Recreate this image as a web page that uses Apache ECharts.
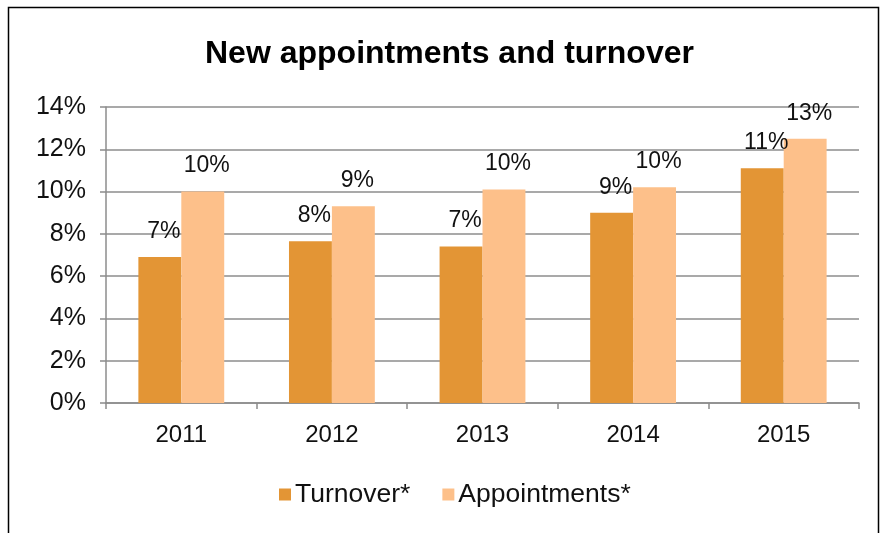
<!DOCTYPE html>
<html style="height: 100%">
<head>
    <meta charset="utf-8">
    <title>New appointments and turnover</title>
    <script src="https://cdn.jsdelivr.net/npm/echarts@6/dist/echarts.min.js"></script>
</head>
<body style="height: 100%; margin: 0; background: #fff">
    <div id="main" style="width: 882px; height: 533px"></div>
    <script>
        // data
        var years = ['2011', '2012', '2013', '2014', '2015'];
        var turnover = [6.9, 7.65, 7.4, 9.0, 11.1];
        var appointments = [10.0, 9.3, 10.1, 10.2, 12.5];

        var myChart = echarts.init(document.getElementById('main'));
        var font = 'Liberation Sans, Arial, sans-serif';

        var labelOpt = {
            show: true,
            position: 'top',
            distance: 14,
            offset: [4, 0],
            color: '#111',
            fontSize: 23,
            fontFamily: font,
            formatter: function (p) { return Math.round(p.value) + '%'; }
        };

        myChart.setOption({
            animation: false,
            title: {
                text: 'New appointments and turnover',
                left: 200,
                top: 33,
                textStyle: { fontFamily: font, fontSize: 32, fontWeight: 'bold', color: '#000' }
            },
            graphic: [{
                type: 'rect',
                shape: { x: 8.5, y: 7.5, width: 870, height: 560 },
                style: { fill: 'none', stroke: '#000', lineWidth: 1.5 },
                silent: true
            }],
            legend: {
                bottom: 20,
                left: 274,
                itemWidth: 12,
                itemHeight: 12,
                itemGap: 32,
                icon: 'rect',
                textStyle: { fontFamily: font, fontSize: 26.5, color: '#111', padding: [0, 0, 0, -1] },
                data: ['Turnover*', 'Appointments*']
            },
            grid: { left: 106, right: 23, top: 107, bottom: 130 },
            xAxis: {
                type: 'category',
                data: years,
                axisLine: { lineStyle: { color: '#8c8c8c', width: 1.5 } },
                axisTick: { show: true, length: 6, lineStyle: { color: '#8c8c8c', width: 1.5 } },
                axisLabel: { fontFamily: font, fontSize: 24, color: '#111', margin: 20 }
            },
            yAxis: {
                type: 'value',
                min: 0,
                max: 14,
                interval: 2,
                axisLine: { show: true, lineStyle: { color: '#8c8c8c', width: 1.5 } },
                axisTick: { show: true, length: 6, lineStyle: { color: '#8c8c8c', width: 1.5 } },
                splitLine: { lineStyle: { color: '#8c8c8c', width: 1.5 } },
                axisLabel: { fontFamily: font, fontSize: 25, color: '#111', margin: 20, formatter: '{value}%' }
            },
            series: [
                {
                    name: 'Turnover*',
                    type: 'bar',
                    data: turnover,
                    barGap: '0%',
                    barCategoryGap: '43%',
                    itemStyle: { color: '#E39535' },
                    label: labelOpt
                },
                {
                    name: 'Appointments*',
                    type: 'bar',
                    data: appointments,
                    itemStyle: { color: '#FDC08A' },
                    label: labelOpt
                }
            ]
        });
    </script>
</body>
</html>
